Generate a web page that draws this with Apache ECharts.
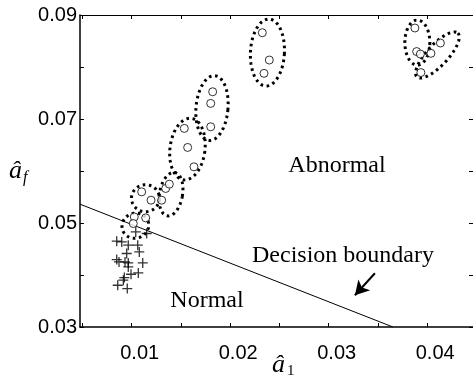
<!DOCTYPE html>
<html>
<head>
<meta charset="utf-8">
<script src="https://cdn.jsdelivr.net/npm/echarts@6/dist/echarts.min.js"></script>
<style>
  html, body { margin: 0; padding: 0; background: #fff; }
  #chart { width: 473px; height: 376px; }
</style>
</head>
<body>
<div id="chart"></div>
<script>
// axis ticks and labels
const xTicks = [0.005, 0.01, 0.015, 0.02, 0.025, 0.03, 0.035, 0.04]
const xLabels = [0.01, 0.02, 0.03, 0.04]
const yTicks = [0.03, 0.04, 0.05, 0.06, 0.07, 0.08, 0.09]
const yLabels = [0.03, 0.05, 0.07, 0.09]

// normal samples (+)
const normalPts = [
  [0.01041, 0.04829], [0.01152, 0.04798], [0.00848, 0.04650], [0.00899, 0.04636],
  [0.00965, 0.04573], [0.01061, 0.04573], [0.01077, 0.04444], [0.00949, 0.04413],
  [0.00848, 0.04297], [0.00871, 0.04251], [0.00932, 0.04251], [0.00965, 0.04232],
  [0.01112, 0.04232], [0.00965, 0.04155], [0.00993, 0.04014], [0.01067, 0.04040],
  [0.00925, 0.03951], [0.00915, 0.03900], [0.00858, 0.03803], [0.00955, 0.03739]
]

// abnormal samples (o)
const abnormalPts = [
  [0.01101, 0.05599], [0.01196, 0.05439], [0.01304, 0.05439], [0.01345, 0.05664],
  [0.01382, 0.05747], [0.01026, 0.05117], [0.01142, 0.05098], [0.01016, 0.04990],
  [0.01822, 0.07524], [0.01802, 0.07300], [0.01802, 0.06850], [0.01534, 0.06819],
  [0.01568, 0.06453], [0.01632, 0.06080], [0.02326, 0.08659], [0.02397, 0.08134],
  [0.02343, 0.07878], [0.03875, 0.08750], [0.03893, 0.08297], [0.03931, 0.08249],
  [0.04038, 0.08263], [0.04134, 0.08461], [0.03936, 0.07893]
]

// dotted groupings: centre x, centre y, semi-axis a (px), semi-axis b (px), tilt (deg)
const groups = [
  [0.01037, 0.04948, 13.5, 12.5, 20],
  [0.01140, 0.05477, 14, 13.5, 0],
  [0.01399, 0.05554, 11.5, 22, -10],
  [0.01566, 0.06421, 17.5, 31, -7],
  [0.01815, 0.07210, 16, 32.5, -5],
  [0.02378, 0.08278, 17, 33.5, -3],
  [0.03900, 0.08470, 12.5, 22.5, 0],
  [0.04104, 0.08230, 30, 10.5, 47]
]

// decision boundary end points
const boundary = [[0.00475, 0.05362], [0.03652, 0.03]]
// arrow pointing at the boundary
const arrowFrom = [0.03469, 0.04034]
const arrowTo = [0.03266, 0.03610]

const chart = echarts.init(document.getElementById('chart'))

const tickFont = { fontFamily: 'Liberation Sans', fontSize: 20, color: '#000' }
const serif = '"Liberation Serif", "Times New Roman", serif'

function ellipseItem (params, api) {
  const c = api.coord([api.value(0), api.value(1)])
  const a = api.value(2)
  const b = api.value(3)
  const th = api.value(4) * Math.PI / 180
  const pts = []
  for (let i = 0; i < 72; i++) {
    const t = i / 72 * Math.PI * 2
    const ex = a * Math.cos(t)
    const ey = b * Math.sin(t)
    pts.push([
      c[0] + ex * Math.cos(th) + ey * Math.sin(th),
      c[1] - ex * Math.sin(th) + ey * Math.cos(th)
    ])
  }
  return {
    type: 'polygon',
    shape: { points: pts },
    style: { fill: 'none', stroke: '#000', lineWidth: 3, lineDash: [2.6, 3.6] }
  }
}

chart.setOption({
  animation: false,
  grid: { left: 80, right: 0, top: 15, bottom: 49 },
  xAxis: [{
    type: 'value',
    min: 0.00475,
    max: 0.04465,
    axisLine: { lineStyle: { color: '#000', width: 1.5 } },
    axisTick: { inside: true, length: 4, customValues: xTicks, lineStyle: { color: '#000' } },
    axisLabel: {
      ...tickFont,
      customValues: xLabels,
      margin: 16,
      padding: [0, 0, 0, 16],
      formatter: v => v.toFixed(2)
    },
    splitLine: { show: false }
  }, {
    type: 'value',
    position: 'top',
    min: 0.00475,
    max: 0.04465,
    axisLine: { lineStyle: { color: '#000', width: 1 } },
    axisTick: { inside: true, length: 4, customValues: xTicks, lineStyle: { color: '#000' } },
    axisLabel: { show: false },
    splitLine: { show: false }
  }],
  yAxis: [{
    type: 'value',
    min: 0.03,
    max: 0.09,
    axisLine: { show: true, lineStyle: { color: '#000', width: 1.5 } },
    axisTick: { show: true, inside: true, length: 4, customValues: yTicks, lineStyle: { color: '#000' } },
    axisLabel: {
      ...tickFont,
      customValues: yLabels,
      margin: 3,
      padding: [5, 0, 0, 0],
      formatter: v => v.toFixed(2)
    },
    splitLine: { show: false }
  }, {
    type: 'value',
    position: 'right',
    min: 0.03,
    max: 0.09,
    axisLine: { show: true, lineStyle: { color: '#000', width: 1 } },
    axisTick: { show: true, inside: true, length: 4, customValues: yTicks, lineStyle: { color: '#000' } },
    axisLabel: { show: false },
    splitLine: { show: false }
  }],
  series: [{
    type: 'line',
    data: boundary,
    symbol: 'none',
    lineStyle: { color: '#000', width: 1 },
    silent: true,
    markLine: {
      silent: true,
      symbol: ['none', 'arrow'],
      symbolSize: [12, 14],
      label: { show: false },
      lineStyle: { color: '#000', width: 2, type: 'solid' },
      data: [[{ coord: arrowFrom }, { coord: arrowTo }]]
    }
  }, {
    type: 'custom',
    renderItem: ellipseItem,
    encode: { x: 0, y: 1 },
    data: groups,
    silent: true,
    z: 3
  }, {
    type: 'scatter',
    data: normalPts,
    symbol: 'path://M0,5L10,5M5,0L5,10',
    symbolSize: 10,
    itemStyle: { color: 'none', borderColor: '#000', borderWidth: 1.3 },
    z: 4
  }, {
    type: 'scatter',
    data: abnormalPts,
    symbol: 'circle',
    symbolSize: 8,
    itemStyle: { color: '#fff', borderColor: '#000', borderWidth: 1 },
    z: 5
  }],
  graphic: [
    { type: 'text', x: 337, y: 166, style: { text: 'Abnormal', font: '24px ' + serif, fill: '#000', align: 'center', verticalAlign: 'middle' } },
    { type: 'text', x: 207, y: 301, style: { text: 'Normal', font: '24px ' + serif, fill: '#000', align: 'center', verticalAlign: 'middle' } },
    { type: 'text', x: 343, y: 256, style: { text: 'Decision boundary', font: '24px ' + serif, fill: '#000', align: 'center', verticalAlign: 'middle' } },
    { type: 'text', x: 9, y: 158, style: { text: 'â', font: 'italic 26px ' + serif, fill: '#000' } },
    { type: 'text', x: 23, y: 170, style: { text: 'f', font: 'italic 16px ' + serif, fill: '#000' } },
    { type: 'text', x: 272, y: 352, style: { text: 'â', font: 'italic 26px ' + serif, fill: '#000' } },
    { type: 'text', x: 287, y: 364, style: { text: '1', font: '15px ' + serif, fill: '#000' } }
  ]
})
</script>
</body>
</html>
